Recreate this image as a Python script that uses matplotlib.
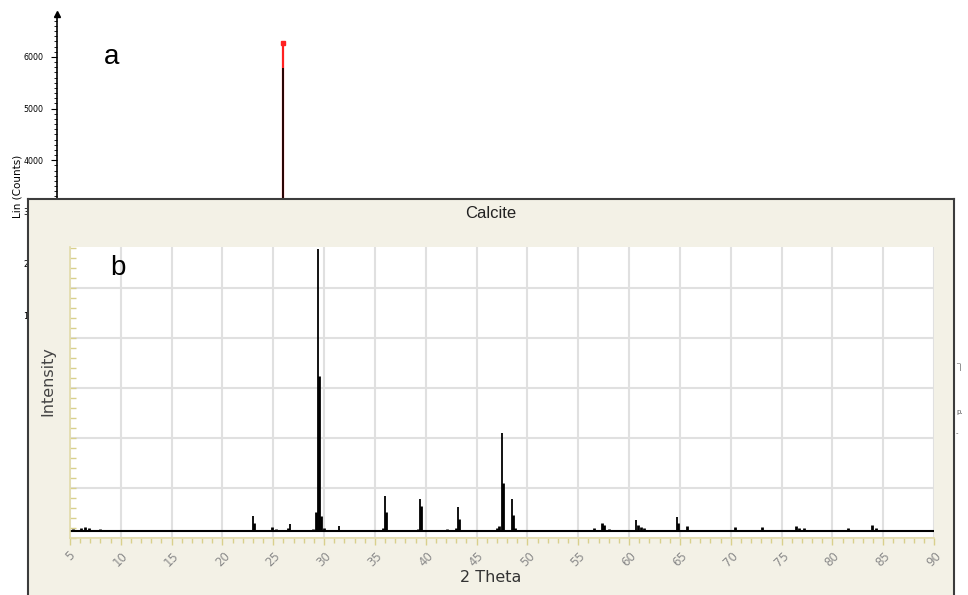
import matplotlib
matplotlib.use("Agg")
import matplotlib.pyplot as plt
from matplotlib.ticker import MultipleLocator, NullFormatter

# ---- panel a (quartz scan, only the top of it shows) ----
a_theta = [26.64]
a_counts = [5780]
a_ref_counts = [6270]
a_yticks = [1000, 2000, 3000, 4000, 5000, 6000]

# ---- panel b (calcite) ----
base_level = 0.14
peak_theta = [23.05, 26.6, 29.42, 31.45, 36.0, 39.4, 43.2, 47.5, 48.5, 60.7, 64.7]
peak_top = [0.44, 0.28, 5.78, 0.24, 0.84, 0.78, 0.62, 2.10, 0.78, 0.36, 0.42]
doublet_theta = [23.15, 29.5, 36.1, 39.5, 43.3, 47.6, 48.6, 64.8]
doublet_top = [0.30, 3.24, 0.52, 0.64, 0.38, 1.10, 0.46, 0.30]
bump_theta = [5.3, 6.1, 6.5, 6.9, 8.0, 9.5, 10.2, 12.5, 13.0, 13.5, 14.3, 15.0,
              20.0, 24.9, 25.3, 26.4, 28.9, 29.25, 29.65, 30.0, 35.8, 39.2, 42.1,
              43.0, 45.5, 46.0, 47.0, 47.2, 48.8, 51.4, 56.6, 57.3, 57.5, 58.0,
              60.9, 61.2, 61.5, 63.2, 65.7, 69.3, 70.4, 73.1, 76.4, 76.7, 77.2,
              81.5, 83.9, 84.3, 84.9]
bump_top = [0.18, 0.20, 0.22, 0.20, 0.18, 0.17, 0.17, 0.17, 0.17, 0.17, 0.17, 0.17,
            0.17, 0.22, 0.18, 0.20, 0.18, 0.52, 0.45, 0.20, 0.20, 0.18, 0.18,
            0.20, 0.17, 0.17, 0.20, 0.24, 0.20, 0.17, 0.20, 0.30, 0.26, 0.18,
            0.26, 0.22, 0.20, 0.17, 0.24, 0.17, 0.22, 0.22, 0.24, 0.20, 0.20,
            0.20, 0.26, 0.20, 0.17]
b_xticks = list(range(5, 91, 5))

W, H = 968, 595


def fx(px):
    return px / W


def fy(py):
    return 1 - py / H


fig = plt.figure(figsize=(W / 100, H / 100), dpi=100)
fig.patch.set_facecolor("white")

# panel a axes
ax_a = fig.add_axes([fx(57), fy(367), fx(945) - fx(57), fy(14) - fy(367)])
ax_a.set_xlim(5, 90)
ax_a.set_ylim(0, 6830)
ax_a.vlines(a_theta, 0, a_ref_counts, color="#ff2020", lw=1.6)
ax_a.plot(a_theta, a_ref_counts, "s", color="#ff2020", ms=2.5)
ax_a.vlines(a_theta, 0, a_counts, color="black", lw=1.2)
for s in ["top", "right", "bottom"]:
    ax_a.spines[s].set_visible(False)
ax_a.spines["left"].set_linewidth(1.2)
ax_a.set_xticks([])
ax_a.set_yticks(a_yticks)
ax_a.yaxis.set_minor_locator(MultipleLocator(100))
ax_a.tick_params(axis="y", which="major", labelsize=5.7, length=4, width=0.8,
                 direction="out", pad=6)
ax_a.tick_params(axis="y", which="minor", length=2.5, width=0.6, direction="out")
ax_a.plot([0], [1], "^", color="black", ms=5, transform=ax_a.transAxes, clip_on=False)
fig.text(fx(112), fy(57), "a", fontsize=20, family="Liberation Sans",
         ha="center", va="center")
fig.text(fx(18), fy(186), "Lin (Counts)", fontsize=7.5, rotation=90,
         ha="center", va="center")

# fragments of panel a legend on the right edge
fig.text(fx(956), fy(367), "\u203e|", fontsize=5, color="#555555", ha="left", va="center")
fig.text(fx(956), fy(412), "p.", fontsize=5, color="#555555", ha="left", va="center")
fig.text(fx(956), fy(433), "-", fontsize=5, color="#555555", ha="left", va="center")

# panel b background frame
ax_bg = fig.add_axes([fx(28), 0, fx(954) - fx(28), fy(199)])
ax_bg.set_facecolor("#f3f1e6")
ax_bg.set_xticks([])
ax_bg.set_yticks([])
for s in ["top", "left", "right"]:
    ax_bg.spines[s].set_color("#3c3c3c")
    ax_bg.spines[s].set_linewidth(1.5)
ax_bg.spines["bottom"].set_visible(False)

ax_b = fig.add_axes([fx(70), fy(538), fx(934) - fx(70), fy(247) - fy(538)])
ax_b.set_facecolor("white")
ax_b.set_xlim(5, 90)
ax_b.set_ylim(0, 5.82)
ax_b.set_xticks(b_xticks)
ax_b.xaxis.set_minor_locator(MultipleLocator(1))
ax_b.yaxis.set_major_locator(MultipleLocator(1))
ax_b.yaxis.set_minor_locator(MultipleLocator(0.2))
ax_b.yaxis.set_major_formatter(NullFormatter())
ax_b.grid(True, which="major", color="#e0e0e0", lw=1.5)
ax_b.set_axisbelow(True)
tick_col = "#d9d08c"
ax_b.tick_params(axis="x", which="major", direction="out", length=5, width=1,
                 color=tick_col, labelsize=8.5, labelcolor="#8a8a8a", pad=3)
ax_b.tick_params(axis="x", which="minor", direction="out", length=3.5, width=1,
                 color=tick_col)
ax_b.tick_params(axis="y", which="both", direction="in", length=4.5, width=1,
                 color=tick_col)
for lab in ax_b.get_xticklabels():
    lab.set_rotation(45)
    lab.set_ha("center")
    lab.set_va("top")
for s in ["top", "right"]:
    ax_b.spines[s].set_visible(False)
for s in ["left", "bottom"]:
    ax_b.spines[s].set_color("#e3dcab")
    ax_b.spines[s].set_linewidth(1.2)

ax_b.plot([5, 90], [base_level, base_level], color="black", lw=1.5, solid_capstyle="butt")
ax_b.vlines(bump_theta, base_level, bump_top, color="black", lw=2)
ax_b.vlines(doublet_theta, base_level, doublet_top, color="black", lw=2)
ax_b.vlines(peak_theta, base_level, peak_top, color="black", lw=1.3)

fig.text(fx(118), fy(268), "b", fontsize=20, family="Liberation Sans",
         ha="center", va="center")
fig.text(fx(491), fy(213), "Calcite", fontsize=12, family="Liberation Sans",
         color="#222222", ha="center", va="center")
fig.text(fx(491), fy(577), "2 Theta", fontsize=11.5, color="#333333",
         ha="center", va="center")
fig.text(fx(48), fy(381), "Intensity", fontsize=11.5, color="#444444",
         rotation=90, ha="center", va="center")

fig.savefig("out.png", dpi=100)
